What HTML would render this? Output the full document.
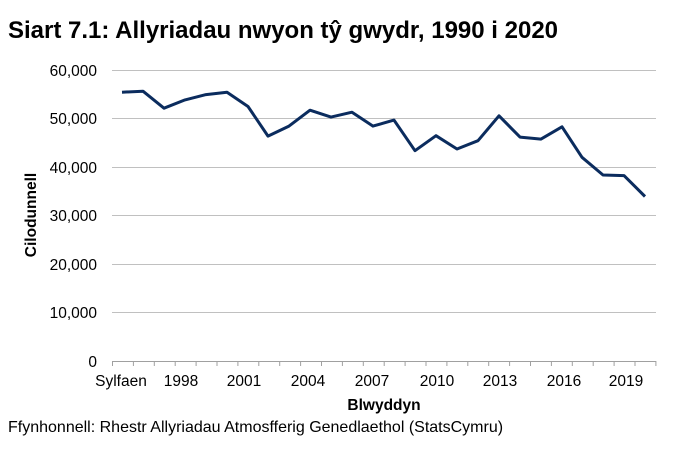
<!DOCTYPE html>
<html><head><meta charset="utf-8"><style>
body{margin:0;background:#fff;}
svg{display:block;font-family:"Liberation Sans",Arial,sans-serif;}
</style></head><body>
<svg width="674" height="449" viewBox="0 0 674 449" xmlns="http://www.w3.org/2000/svg">
<rect width="674" height="449" fill="#fff"/>
<text x="8" y="38" font-size="24" font-weight="bold" fill="#000">Siart 7.1: Allyriadau nwyon tŷ gwydr, 1990 i 2020</text>
<g stroke="#c0c0c0" stroke-width="1">
<line x1="112" x2="656" y1="70.5" y2="70.5"/>
<line x1="112" x2="656" y1="118.5" y2="118.5"/>
<line x1="112" x2="656" y1="167.5" y2="167.5"/>
<line x1="112" x2="656" y1="215.5" y2="215.5"/>
<line x1="112" x2="656" y1="264.5" y2="264.5"/>
<line x1="112" x2="656" y1="312.5" y2="312.5"/>
</g>
<line x1="112" x2="656" y1="361.5" y2="361.5" stroke="#a0a0a0"/>
<g font-size="15.5" fill="#000" text-anchor="end">
<text x="97" y="76">60,000</text>
<text x="97" y="124">50,000</text>
<text x="97" y="173">40,000</text>
<text x="97" y="221">30,000</text>
<text x="97" y="270">20,000</text>
<text x="97" y="318">10,000</text>
<text x="97" y="367">0</text>
</g>
<g font-size="15.5" fill="#000" text-anchor="middle">
<text x="121" y="386">Sylfaen</text>
<text x="181" y="386">1998</text>
<text x="244" y="386">2001</text>
<text x="308" y="386">2004</text>
<text x="372" y="386">2007</text>
<text x="437" y="386">2010</text>
<text x="500" y="386">2013</text>
<text x="564" y="386">2016</text>
<text x="626" y="386">2019</text>
</g>
<text x="384" y="410" font-size="15.5" font-weight="bold" text-anchor="middle">Blwyddyn</text>
<text transform="translate(36,215) rotate(-90)" font-size="15.5" font-weight="bold" text-anchor="middle">Cilodunnell</text>
<text x="8" y="432" font-size="16" fill="#000">Ffynhonnell: Rhestr Allyriadau Atmosfferig Genedlaethol (StatsCymru)</text>
<polyline fill="none" stroke="#0b2c5e" stroke-width="3" stroke-linejoin="round" points="
122,92.2 143,91.2 164,108.2 185,99.9 206,94.6 227,92.2 248,106.5 268,136.1 289,126.1 310,110.2 331,117.1 352,112.2 373,126.1 394,120.1 415,150.7 436,135.7 457,149 478,140.7 499,115.8 520,137.1 541,139.1 562,126.8 582,157.3 603,175 624,175.6 645,196.5"/>
<g stroke="#a0a0a0">
<line x1="112.5" x2="112.5" y1="361" y2="366"/>
<line x1="133.4" x2="133.4" y1="361" y2="366"/>
<line x1="154.3" x2="154.3" y1="361" y2="366"/>
<line x1="175.2" x2="175.2" y1="361" y2="366"/>
<line x1="196.1" x2="196.1" y1="361" y2="366"/>
<line x1="217" x2="217" y1="361" y2="366"/>
<line x1="237.9" x2="237.9" y1="361" y2="366"/>
<line x1="258.8" x2="258.8" y1="361" y2="366"/>
<line x1="279.7" x2="279.7" y1="361" y2="366"/>
<line x1="300.6" x2="300.6" y1="361" y2="366"/>
<line x1="321.5" x2="321.5" y1="361" y2="366"/>
<line x1="342.4" x2="342.4" y1="361" y2="366"/>
<line x1="363.3" x2="363.3" y1="361" y2="366"/>
<line x1="384.2" x2="384.2" y1="361" y2="366"/>
<line x1="405.1" x2="405.1" y1="361" y2="366"/>
<line x1="426" x2="426" y1="361" y2="366"/>
<line x1="446.9" x2="446.9" y1="361" y2="366"/>
<line x1="467.8" x2="467.8" y1="361" y2="366"/>
<line x1="488.7" x2="488.7" y1="361" y2="366"/>
<line x1="509.6" x2="509.6" y1="361" y2="366"/>
<line x1="530.5" x2="530.5" y1="361" y2="366"/>
<line x1="551.4" x2="551.4" y1="361" y2="366"/>
<line x1="572.3" x2="572.3" y1="361" y2="366"/>
<line x1="593.2" x2="593.2" y1="361" y2="366"/>
<line x1="614.1" x2="614.1" y1="361" y2="366"/>
<line x1="635" x2="635" y1="361" y2="366"/>
<line x1="655.9" x2="655.9" y1="361" y2="366"/>
</g>
</svg>
</body></html>
